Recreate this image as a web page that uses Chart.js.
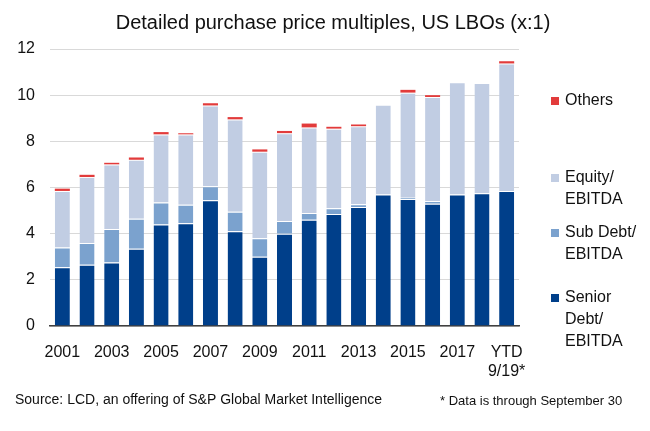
<!DOCTYPE html>
<html>
<head>
<meta charset="utf-8">
<script src="https://cdn.jsdelivr.net/npm/chart.js@4/dist/chart.umd.min.js"></script>
<style>
  html, body { margin: 0; padding: 0; background: #fff; }
  #wrap { position: relative; width: 650px; height: 431px; }
</style>
</head>
<body>
<div id="wrap"><canvas id="c" width="650" height="431"></canvas></div>
<script>
const categories = ['2001','2002','2003','2004','2005','2006','2007','2008','2009','2010','2011','2012','2013','2014','2015','2016','2017','2018',['YTD','9/19*']];
const seniorDebt = [2.55,2.65,2.75,3.35,4.4,4.45,5.45,4.1,3.0,4.0,4.6,4.85,5.15,5.7,5.5,5.3,5.7,5.75,5.85];
const subDebt    = [0.85,0.95,1.45,1.3,0.95,0.8,0.6,0.85,0.8,0.55,0.3,0.25,0.12,0,0.06,0.12,0,0,0];
const equity     = [2.45,2.85,2.8,2.55,2.95,3.05,3.5,4.0,3.75,3.8,3.7,3.45,3.38,3.88,4.55,4.5,4.86,4.78,5.52];
const others     = [0.1,0.1,0.07,0.1,0.1,0.05,0.1,0.1,0.1,0.1,0.17,0.08,0.08,0,0.12,0.08,0,0,0.1];
const yTicks = [0,2,4,6,8,10,12];
const titleText = 'Detailed purchase price multiples, US LBOs (x:1)';
const sourceText = 'Source: LCD, an offering of S&P Global Market Intelligence';
const noteText = '* Data is through September 30';
const legendItems = [
  { ds: 3, lines: ['Others'], y: 101 },
  { ds: 2, lines: ['Equity/', 'EBITDA'], y: 178 },
  { ds: 1, lines: ['Sub Debt/', 'EBITDA'], y: 233 },
  { ds: 0, lines: ['Senior', 'Debt/', 'EBITDA'], y: 298 }
];

const FONT = '"Liberation Sans", Arial, sans-serif';

const decor = {
  id: 'decor',
  afterDraw(chart) {
    const ctx = chart.ctx;
    ctx.save();
    ctx.fillStyle = '#111';
    ctx.textBaseline = 'middle';
    ctx.textAlign = 'center';
    ctx.font = '20px ' + FONT;
    ctx.fillText(titleText, 333, 23);
    ctx.textAlign = 'left';
    ctx.font = '14px ' + FONT;
    ctx.fillText(sourceText, 15, 400);
    ctx.font = '13px ' + FONT;
    ctx.fillText(noteText, 440, 401);
    ctx.font = '16px ' + FONT;
    legendItems.forEach(it => {
      const ds = chart.data.datasets[it.ds];
      ctx.fillStyle = ds.backgroundColor;
      ctx.fillRect(551, it.y - 4, 8, 8);
      ctx.fillStyle = '#111';
      it.lines.forEach((l, i) => ctx.fillText(l, 565, it.y + i * 22));
    });
    ctx.restore();
  }
};

const border = { top: 1, bottom: 0, left: 0, right: 0 };

new Chart(document.getElementById('c'), {
  type: 'bar',
  data: {
    labels: categories,
    datasets: [
      { label: 'Senior Debt/EBITDA', data: seniorDebt, backgroundColor: '#003f8a', borderColor: 'rgba(255,255,255,0.75)', borderWidth: border, borderSkipped: false },
      { label: 'Sub Debt/EBITDA', data: subDebt, backgroundColor: '#7ba2ce', borderColor: 'rgba(255,255,255,0.75)', borderWidth: border, borderSkipped: false },
      { label: 'Equity/EBITDA', data: equity, backgroundColor: '#c1cde3', borderColor: 'rgba(255,255,255,0.75)', borderWidth: border, borderSkipped: false },
      { label: 'Others', data: others, backgroundColor: '#e23b3b', borderWidth: 0 }
    ]
  },
  options: {
    responsive: false,
    animation: false,
    devicePixelRatio: 1,
    layout: { padding: { left: 0, right: 131, top: 49, bottom: 0 } },
    datasets: { bar: { categoryPercentage: 1.0, barPercentage: 0.61 } },
    plugins: { legend: { display: false }, title: { display: false }, tooltip: { enabled: false } },
    scales: {
      x: {
        stacked: true,
        grid: { display: false, drawTicks: false },
        border: { display: true, color: '#404040', width: 1.5 },
        ticks: {
          autoSkip: false, maxRotation: 0, minRotation: 0, padding: 17,
          color: '#111', font: { family: FONT, size: 16 },
          callback: function(v, i) { return i % 2 === 0 ? this.getLabelForValue(v) : ''; }
        },
        afterFit(scale) { scale.height = 105; }
      },
      y: {
        stacked: true,
        min: 0, max: 12,
        afterBuildTicks(scale) { scale.ticks = yTicks.map(v => ({ value: v })); },
        grid: { color: '#d9d9d9', lineWidth: 1, drawTicks: false },
        border: { display: false },
        ticks: { padding: 15, color: '#111', font: { family: FONT, size: 16 } },
        afterFit(scale) { scale.width = 50; }
      }
    }
  },
  plugins: [decor]
});
</script>
</body>
</html>
